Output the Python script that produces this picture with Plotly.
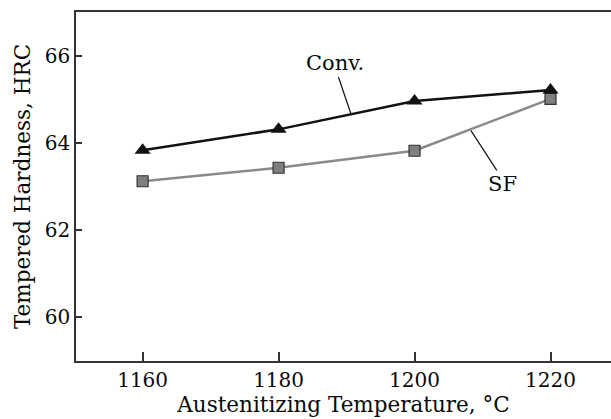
import plotly.graph_objects as go

temps = [1160, 1180, 1200, 1220]
conv_hrc = [63.83, 64.31, 64.96, 65.21]
sf_hrc = [63.12, 63.43, 63.82, 65.01]
x_ticks = [1160, 1180, 1200, 1220]
y_ticks = [60, 62, 64, 66]

FONT = "DejaVu Serif"
TXT = "#0a0a0a"

fig = go.Figure()
fig.add_trace(go.Scatter(
    x=temps, y=sf_hrc, mode="lines+markers", name="SF",
    line=dict(color="#8a8a8a", width=2.5),
    marker=dict(symbol="square", size=11, color="#7f7f7f",
                line=dict(color="#333333", width=1.2)),
    cliponaxis=False,
))
fig.add_trace(go.Scatter(
    x=temps, y=conv_hrc, mode="lines+markers", name="Conv.",
    line=dict(color="#111111", width=2.5),
    marker=dict(symbol="triangle-up", size=14, color="#111111",
                line=dict(color="#111111", width=0)),
    cliponaxis=False,
))

# leader lines for labels
fig.add_shape(type="line", xref="x", yref="y", x0=1188.8, y0=65.51, x1=1190.7, y1=64.64,
              line=dict(color="#111111", width=1.2))
fig.add_shape(type="line", xref="x", yref="y", x0=1208.3, y0=64.28, x1=1212.1, y1=63.37,
              line=dict(color="#111111", width=1.2))
fig.add_annotation(x=1188.3, y=65.84, xref="x", yref="y", text="Conv.", showarrow=False,
                   font=dict(family=FONT, size=21, color=TXT))
fig.add_annotation(x=1213.0, y=63.05, xref="x", yref="y", text="SF", showarrow=False,
                   font=dict(family=FONT, size=21, color=TXT))

axis_common = dict(
    showgrid=False, zeroline=False, showline=True, linecolor="#333333", linewidth=1.5,
    ticks="inside", tickcolor="#333333", tickwidth=1.5,
    tickfont=dict(family=FONT, size=20, color=TXT),
)
fig.update_xaxes(
    range=[1150.2, 1228.9], tickvals=x_ticks, ticklen=9, mirror=True,
    title=dict(text="Austenitizing Temperature, °C", standoff=4,
               font=dict(family=FONT, size=21.5, color=TXT)),
    **axis_common,
)
fig.update_yaxes(
    range=[59, 67], tickvals=y_ticks, ticklen=6,
    title=dict(text="Tempered Hardness, HRC", standoff=8,
               font=dict(family=FONT, size=21.5, color=TXT)),
    **axis_common,
)
fig.update_layout(
    width=611, height=419, showlegend=False,
    margin=dict(l=76, r=0, t=12, b=58),
    plot_bgcolor="white", paper_bgcolor="white",
)
fig.write_html("out.html")
